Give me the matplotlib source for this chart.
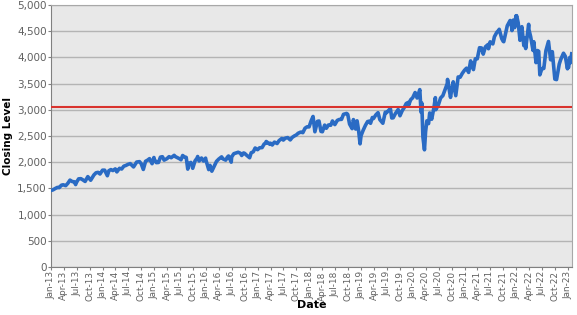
import matplotlib
matplotlib.use("Agg")
import matplotlib.pyplot as plt
import matplotlib.dates as mdates
from matplotlib.ticker import FuncFormatter, MultipleLocator
import pandas as pd

# S&P 500 closing levels (roughly twice a month plus turning points)
dates = [
    "2013-01-02", "2013-01-15", "2013-01-31", "2013-02-15", "2013-02-28", "2013-03-15", "2013-03-28",
    "2013-04-15", "2013-04-30", "2013-05-15", "2013-05-31", "2013-06-14", "2013-06-24", "2013-06-28",
    "2013-07-15", "2013-07-31", "2013-08-15", "2013-08-30", "2013-09-18", "2013-09-30", "2013-10-08",
    "2013-10-31", "2013-11-15", "2013-11-29", "2013-12-13", "2013-12-31",
    "2014-01-15", "2014-02-03", "2014-02-14", "2014-02-28", "2014-03-14", "2014-03-31", "2014-04-11",
    "2014-04-30", "2014-05-15", "2014-05-30", "2014-06-13", "2014-06-30", "2014-07-15", "2014-07-31",
    "2014-08-07", "2014-08-29", "2014-09-18", "2014-09-30", "2014-10-15", "2014-10-31", "2014-11-14",
    "2014-11-28", "2014-12-16", "2014-12-29", "2014-12-31",
    "2015-01-15", "2015-01-30", "2015-02-13", "2015-02-27", "2015-03-11", "2015-03-31", "2015-04-15",
    "2015-04-30", "2015-05-21", "2015-05-29", "2015-06-15", "2015-06-30", "2015-07-08", "2015-07-20",
    "2015-07-31", "2015-08-14", "2015-08-25", "2015-08-31", "2015-09-16", "2015-09-29", "2015-10-15",
    "2015-10-30", "2015-11-03", "2015-11-13", "2015-11-30", "2015-12-14", "2015-12-29", "2015-12-31",
    "2016-01-20", "2016-01-29", "2016-02-11", "2016-02-29", "2016-03-15", "2016-03-31", "2016-04-20",
    "2016-04-29", "2016-05-19", "2016-05-31", "2016-06-08", "2016-06-27", "2016-06-30", "2016-07-15",
    "2016-07-29", "2016-08-15", "2016-08-31", "2016-09-09", "2016-09-22", "2016-09-30", "2016-10-14",
    "2016-11-04", "2016-11-15", "2016-11-30", "2016-12-13", "2016-12-30",
    "2017-01-13", "2017-01-31", "2017-02-15", "2017-02-28", "2017-03-01", "2017-03-27", "2017-03-31",
    "2017-04-13", "2017-04-28", "2017-05-17", "2017-05-31", "2017-06-19", "2017-06-30", "2017-07-14",
    "2017-07-31", "2017-08-18", "2017-08-31", "2017-09-15", "2017-09-29", "2017-10-13", "2017-10-31",
    "2017-11-15", "2017-11-30", "2017-12-15", "2017-12-29",
    "2018-01-12", "2018-01-26", "2018-02-08", "2018-02-26", "2018-03-09", "2018-03-23", "2018-04-02",
    "2018-04-18", "2018-04-30", "2018-05-15", "2018-05-31", "2018-06-12", "2018-06-29", "2018-07-16",
    "2018-07-31", "2018-08-15", "2018-08-29", "2018-09-20", "2018-09-28", "2018-10-11", "2018-10-29",
    "2018-11-07", "2018-11-23", "2018-11-30", "2018-12-03", "2018-12-14", "2018-12-24", "2018-12-31",
    "2019-01-15", "2019-01-31", "2019-02-15", "2019-02-28", "2019-03-08", "2019-03-21", "2019-03-29",
    "2019-04-15", "2019-04-30", "2019-05-13", "2019-05-31", "2019-06-03", "2019-06-20", "2019-06-28",
    "2019-07-26", "2019-08-05", "2019-08-15", "2019-08-30", "2019-09-19", "2019-10-02", "2019-10-18",
    "2019-10-31", "2019-11-15", "2019-11-29", "2019-12-03", "2019-12-16", "2019-12-31",
    "2020-01-17", "2020-01-31", "2020-02-19", "2020-02-28", "2020-03-04", "2020-03-12", "2020-03-16",
    "2020-03-23", "2020-03-31", "2020-04-09", "2020-04-21", "2020-04-29", "2020-05-13", "2020-05-29",
    "2020-06-08", "2020-06-11", "2020-06-30", "2020-07-15", "2020-07-31", "2020-08-14", "2020-08-31",
    "2020-09-02", "2020-09-23", "2020-09-30", "2020-10-12", "2020-10-30", "2020-11-16", "2020-11-30",
    "2020-12-15", "2020-12-31",
    "2021-01-14", "2021-01-29", "2021-02-12", "2021-02-26", "2021-03-04", "2021-03-17", "2021-03-31",
    "2021-04-16", "2021-04-30", "2021-05-12", "2021-05-28", "2021-06-15", "2021-06-18", "2021-06-30",
    "2021-07-19", "2021-07-30", "2021-08-16", "2021-08-31", "2021-09-02", "2021-09-20", "2021-09-30",
    "2021-10-04", "2021-10-29", "2021-11-18", "2021-11-30", "2021-12-01", "2021-12-10", "2021-12-20",
    "2021-12-29", "2021-12-31",
    "2022-01-03", "2022-01-14", "2022-01-27", "2022-01-31", "2022-02-09", "2022-02-23", "2022-02-28",
    "2022-03-08", "2022-03-29", "2022-03-31", "2022-04-12", "2022-04-29", "2022-05-04", "2022-05-20",
    "2022-05-31", "2022-06-08", "2022-06-16", "2022-06-30", "2022-07-14", "2022-07-29", "2022-08-16",
    "2022-08-31", "2022-09-12", "2022-09-30", "2022-10-12", "2022-10-31", "2022-11-10", "2022-11-30",
    "2022-12-13", "2022-12-28", "2022-12-30",
    "2023-01-05", "2023-01-13", "2023-01-19", "2023-01-27",
]
closes = [
    1462, 1472, 1498, 1519, 1515, 1561, 1569,
    1553, 1598, 1658, 1631, 1626, 1573, 1606,
    1682, 1686, 1661, 1633, 1725, 1682, 1656,
    1757, 1798, 1806, 1775, 1848,
    1848, 1742, 1838, 1859, 1841, 1872, 1815,
    1884, 1870, 1924, 1937, 1960, 1973, 1931,
    1910, 2003, 2011, 1972, 1862, 2018, 2039,
    2068, 1972, 2090, 2059,
    1992, 1995, 2097, 2105, 2040, 2068, 2106,
    2086, 2131, 2107, 2084, 2063, 2047, 2128,
    2104, 2092, 1868, 1972, 1996, 1884, 2023,
    2079, 2109, 2023, 2080, 2022, 2078, 2044,
    1859, 1940, 1829, 1932, 2016, 2060, 2102,
    2065, 2040, 2097, 2119, 2001, 2099, 2162,
    2174, 2190, 2171, 2128, 2177, 2168, 2133,
    2085, 2180, 2199, 2271, 2239,
    2275, 2279, 2350, 2364, 2396, 2342, 2363,
    2329, 2384, 2357, 2412, 2453, 2423, 2459,
    2470, 2426, 2472, 2500, 2519, 2553, 2575,
    2564, 2648, 2676, 2674,
    2786, 2873, 2581, 2780, 2786, 2588, 2582,
    2708, 2648, 2711, 2705, 2787, 2718, 2798,
    2816, 2818, 2914, 2931, 2914, 2728, 2641,
    2814, 2633, 2760, 2790, 2600, 2351, 2507,
    2610, 2704, 2775, 2784, 2743, 2854, 2834,
    2905, 2946, 2812, 2752, 2744, 2954, 2942,
    3026, 2844, 2848, 2926, 3006, 2887, 2986,
    3038, 3120, 3141, 3093, 3191, 3231,
    3330, 3226, 3386, 2954, 3130, 2481, 2386,
    2237, 2585, 2790, 2737, 2940, 2820, 3044,
    3232, 3002, 3100, 3227, 3271, 3373, 3500,
    3580, 3237, 3363, 3535, 3270, 3627, 3622,
    3695, 3756,
    3795, 3714, 3934, 3811, 3768, 3974, 3973,
    4185, 4181, 4063, 4204, 4246, 4166, 4298,
    4258, 4395, 4479, 4523, 4537, 4358, 4308,
    4300, 4605, 4705, 4567, 4513, 4712, 4568,
    4793, 4766,
    4797, 4663, 4327, 4516, 4587, 4226, 4374,
    4170, 4632, 4530, 4397, 4132, 4300, 3901,
    4132, 4116, 3667, 3785, 3790, 4130, 4305,
    3955, 4110, 3586, 3577, 3872, 3956, 4080,
    4020, 3783, 3840,
    3808, 3999, 3899, 4070,
]
reference_level = 3050

dt = pd.to_datetime(dates)

fig = plt.figure(figsize=(5.77, 3.15), dpi=100)
ax = fig.add_axes([0.0884, 0.1524, 0.9029, 0.8316])
ax.set_facecolor("#e8e8e8")

ax.plot(dt, closes, color="#2a6bc4", lw=2.6, solid_joinstyle="round", zorder=3)
ax.axhline(reference_level, color="#d9332e", lw=1.5, zorder=4)

ax.set_ylim(0, 5000)
ax.set_xlim(pd.Timestamp("2013-01-01"), pd.Timestamp("2023-01-29"))
ax.yaxis.set_major_locator(MultipleLocator(500))
ax.yaxis.set_major_formatter(FuncFormatter(lambda v, p: f"{int(v):,}"))
ax.xaxis.set_major_locator(mdates.MonthLocator(bymonth=[1, 4, 7, 10]))
ax.xaxis.set_major_formatter(mdates.DateFormatter("%b-%y"))
ax.grid(axis="y", color="#b4b4b4", lw=1.0, zorder=1)
ax.set_axisbelow(True)

for s in ax.spines.values():
    s.set_color("#a8a8a8")
ax.spines["left"].set_color("#808080")
ax.spines["bottom"].set_color("#808080")

ax.tick_params(axis="y", labelsize=7.5, labelcolor="#606060", length=2, color="#808080", pad=1)
ax.tick_params(axis="x", labelsize=6.4, labelcolor="#606060", length=2, color="#808080",
               rotation=90, pad=1)

ax.set_ylabel("Closing Level", fontsize=7.5, fontweight="bold")
ax.yaxis.set_label_coords(-0.073, 0.5)
ax.set_xlabel("Date", fontsize=8, fontweight="bold")
ax.xaxis.set_label_coords(0.5, -0.125)

fig.savefig("out.png", dpi=100)
